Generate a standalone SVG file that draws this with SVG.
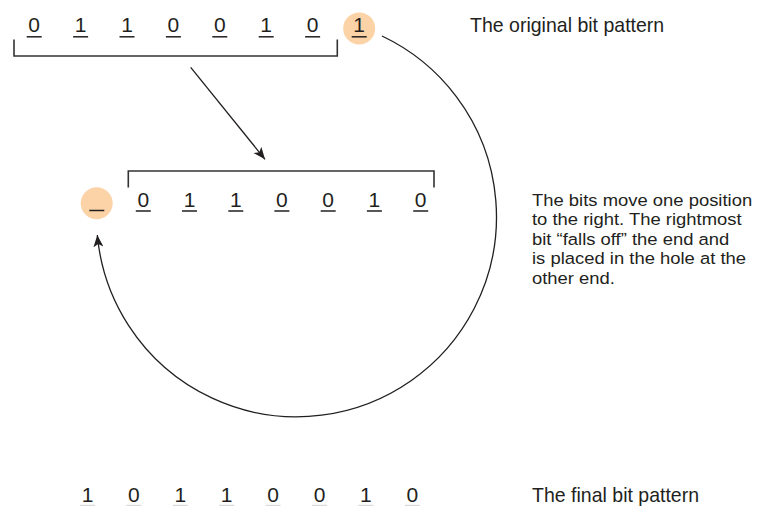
<svg xmlns="http://www.w3.org/2000/svg" width="759" height="506" viewBox="0 0 759 506">
  <style>
    .bit { font-family: "Liberation Sans", Arial, sans-serif; font-size: 21px; fill: #231f20; text-anchor: middle; }
    .lbl { font-family: "Liberation Sans", Arial, sans-serif; font-size: 21px; fill: #231f20; }
    .para { font-family: "Liberation Sans", Arial, sans-serif; font-size: 17.4px; fill: #231f20; }
    .ul { stroke: #231f20; stroke-width: 1.5; }
    .ulg { stroke: #d9d9d9; stroke-width: 1.5; }
    .br { fill: none; stroke: #333333; stroke-width: 1.6; }
    .hole { fill: #fcd3a6; }
    .conn { fill: none; stroke: #231f20; stroke-width: 1.3; }
  </style>
  <defs>
    <marker id="arrow" markerUnits="userSpaceOnUse" markerWidth="14" markerHeight="12" refX="12" refY="5" orient="auto">
      <path d="M0,0 L12,5 L0,10 L3,5 Z" fill="#231f20"/>
    </marker>
  </defs>
  <rect width="759" height="506" fill="#ffffff"/>

  <g id="original-bits">
    <circle class="hole" cx="359.2" cy="28.4" r="16"/>
    <text class="bit" x="34.2" y="31.7">0</text>
    <text class="bit" x="80.6" y="31.7">1</text>
    <text class="bit" x="127" y="31.7">1</text>
    <text class="bit" x="173.4" y="31.7">0</text>
    <text class="bit" x="219.8" y="31.7">0</text>
    <text class="bit" x="266.2" y="31.7">1</text>
    <text class="bit" x="312.6" y="31.7">0</text>
    <text class="bit" x="359.2" y="31.7">1</text>
    <line class="ul" x1="26.7" y1="36.8" x2="41.7" y2="36.8"/>
    <line class="ul" x1="73.1" y1="36.8" x2="88.1" y2="36.8"/>
    <line class="ul" x1="119.5" y1="36.8" x2="134.5" y2="36.8"/>
    <line class="ul" x1="165.9" y1="36.8" x2="180.9" y2="36.8"/>
    <line class="ul" x1="212.3" y1="36.8" x2="227.3" y2="36.8"/>
    <line class="ul" x1="258.7" y1="36.8" x2="273.7" y2="36.8"/>
    <line class="ul" x1="305.1" y1="36.8" x2="320.1" y2="36.8"/>
    <line class="ul" x1="351.7" y1="36.8" x2="366.7" y2="36.8"/>
    <path class="br" d="M14,39.5 V56 H337.3 V39.5"/>
  </g>

  <g id="original-label">
    <g transform="translate(470,0) scale(0.93,1)">
      <text class="lbl" x="0" y="31.7">The original bit pattern</text>
    </g>
  </g>

  <g id="hole">
    <circle class="hole" cx="96.7" cy="203.3" r="16"/>
    <line class="ul" x1="89.3" y1="210.5" x2="104.3" y2="210.5"/>
  </g>

  <g id="shifted-bits">
    <path class="br" d="M128.3,187.5 V171 H434 V187.5"/>
    <text class="bit" x="143.3" y="206.5">0</text>
    <text class="bit" x="189.5" y="206.5">1</text>
    <text class="bit" x="235.8" y="206.5">1</text>
    <text class="bit" x="281.9" y="206.5">0</text>
    <text class="bit" x="328.2" y="206.5">0</text>
    <text class="bit" x="374.4" y="206.5">1</text>
    <text class="bit" x="420.7" y="206.5">0</text>
    <line class="ul" x1="135.8" y1="211" x2="150.8" y2="211"/>
    <line class="ul" x1="182" y1="211" x2="197" y2="211"/>
    <line class="ul" x1="228.3" y1="211" x2="243.3" y2="211"/>
    <line class="ul" x1="274.4" y1="211" x2="289.4" y2="211"/>
    <line class="ul" x1="320.7" y1="211" x2="335.7" y2="211"/>
    <line class="ul" x1="366.9" y1="211" x2="381.9" y2="211"/>
    <line class="ul" x1="413.2" y1="211" x2="428.2" y2="211"/>
  </g>

  <g id="shift-label">
    <g transform="translate(532,0) scale(1.06,1)">
      <text class="para" x="0" y="206">The bits move one position</text>
      <text class="para" x="0" y="225.5">to the right. The rightmost</text>
      <text class="para" x="0" y="245">bit “falls off” the end and</text>
      <text class="para" x="0" y="264.5">is placed in the hole at the</text>
      <text class="para" x="0" y="284">other end.</text>
    </g>
  </g>

  <g id="final-bits">
    <text class="bit" x="87.5" y="501.7">1</text>
    <text class="bit" x="133.9" y="501.7">0</text>
    <text class="bit" x="180.3" y="501.7">1</text>
    <text class="bit" x="226.7" y="501.7">1</text>
    <text class="bit" x="273.1" y="501.7">0</text>
    <text class="bit" x="319.5" y="501.7">0</text>
    <text class="bit" x="365.9" y="501.7">1</text>
    <text class="bit" x="412.3" y="501.7">0</text>
    <line class="ulg" x1="80" y1="505.5" x2="95" y2="505.5"/>
    <line class="ulg" x1="126.4" y1="505.5" x2="141.4" y2="505.5"/>
    <line class="ulg" x1="172.8" y1="505.5" x2="187.8" y2="505.5"/>
    <line class="ulg" x1="219.2" y1="505.5" x2="234.2" y2="505.5"/>
    <line class="ulg" x1="265.6" y1="505.5" x2="280.6" y2="505.5"/>
    <line class="ulg" x1="312" y1="505.5" x2="327" y2="505.5"/>
    <line class="ulg" x1="358.4" y1="505.5" x2="373.4" y2="505.5"/>
    <line class="ulg" x1="404.8" y1="505.5" x2="419.8" y2="505.5"/>
  </g>

  <g id="final-label">
    <g transform="translate(532,0) scale(0.93,1)">
      <text class="lbl" x="0" y="501.7">The final bit pattern</text>
    </g>
  </g>

  <g id="connectors">
    <line class="conn" x1="190.7" y1="67.3" x2="265" y2="159.3" marker-end="url(#arrow)"/>
    <path class="conn" d="M382,36 A200,200 0 1 1 97.3,235" marker-end="url(#arrow)"/>
  </g>
</svg>
